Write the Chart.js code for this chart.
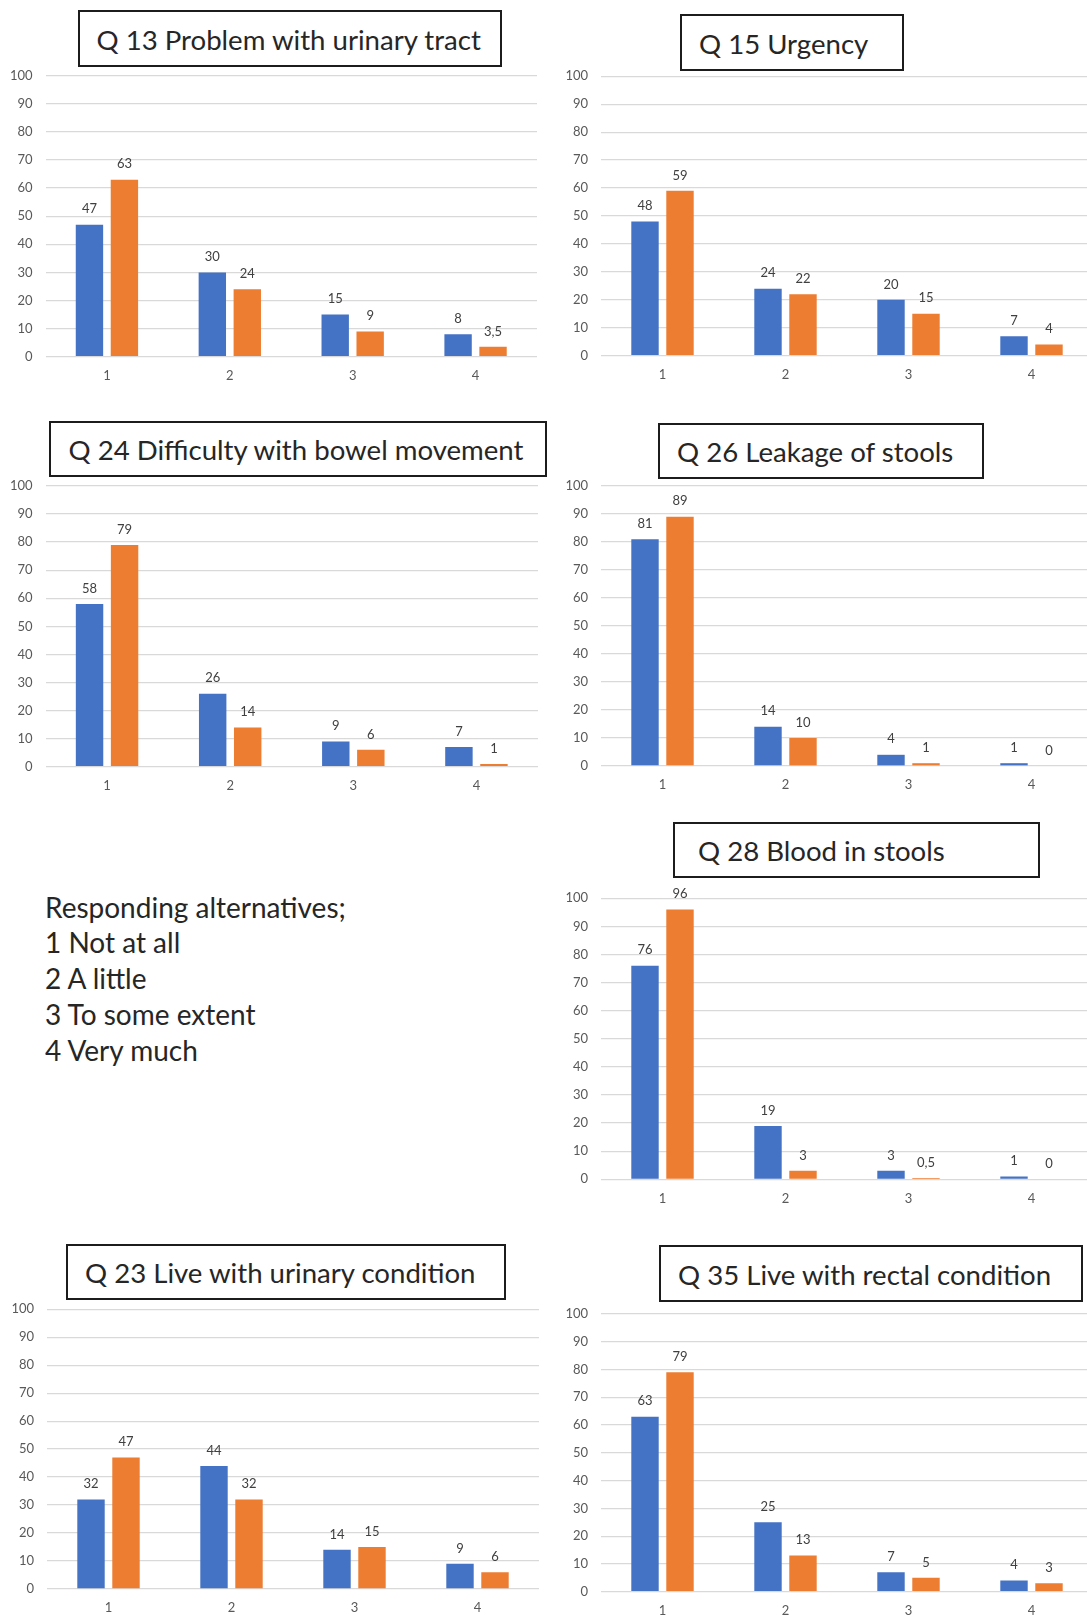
<!DOCTYPE html>
<html>
<head>
<meta charset="utf-8">
<title>Bowel and urinary symptoms, responding alternatives 1-4</title>
<script src="https://cdn.jsdelivr.net/npm/chart.js@4.4.1/dist/chart.umd.min.js"></script>
<style>
  html, body { margin: 0; padding: 0; background: #fff; }
  body { position: relative; width: 1087px; height: 1615px; overflow: hidden; font-family: Lato, "Open Sans", sans-serif; }
  canvas { position: absolute; }
  .title { position: absolute; box-sizing: border-box; border: 2px solid #1c1c1c; background: #fff; }
  .title span { position: absolute; font: 27.6px Lato, sans-serif; line-height: 1.2; color: #262626; white-space: nowrap; }
  .legend { position: absolute; left: 45px; top: 889.5px; font: 28px Lato, sans-serif; line-height: 35.9px; color: #262626; white-space: nowrap; }
</style>
</head>
<body>
<div class="legend" id="legend"></div>
<script>
// Answer categories on the x axis
const categories = ['1', '2', '3', '4'];

// Percent of respondents per answer; blue and orange series for each question
const q13Blue = [47, 30, 15, 8];
const q13Orange = [63, 24, 9, 3.5];
const q15Blue = [48, 24, 20, 7];
const q15Orange = [59, 22, 15, 4];
const q24Blue = [58, 26, 9, 7];
const q24Orange = [79, 14, 6, 1];
const q26Blue = [81, 14, 4, 1];
const q26Orange = [89, 10, 1, 0];
const q28Blue = [76, 19, 3, 1];
const q28Orange = [96, 3, 0.5, 0];
const q23Blue = [32, 44, 14, 9];
const q23Orange = [47, 32, 15, 6];
const q35Blue = [63, 25, 7, 4];
const q35Orange = [79, 13, 5, 3];

// Value axis ticks
const yMin = 0;
const yMax = 100;
const yStep = 10;

const titles = [
  'Q 13 Problem with urinary tract',
  'Q 15 Urgency',
  'Q 24 Difficulty with bowel movement',
  'Q 26 Leakage of stools',
  'Q 28 Blood in stools',
  'Q 23 Live with urinary condition',
  'Q 35 Live with rectal condition'
];

const legendLines = [
  'Responding alternatives;',
  '1 Not at all',
  '2 A little',
  '3 To some extent',
  '4 Very much'
];

const BLUE = '#4472C4';
const ORANGE = '#ED7D31';

// Page placement of each panel: plot area (value 100 at t, value 0 at b) and title box
const panels = [
  { title: titles[0], blue: q13Blue, orange: q13Orange,
    plot: { l: 45.5, r: 537, t: 75.7, b: 356.7 }, box: { x: 77.5, y: 10, w: 424.5, h: 56.5, pad: 19 } },
  { title: titles[1], blue: q15Blue, orange: q15Orange,
    plot: { l: 601, r: 1093, t: 76.3, b: 355.7 }, box: { x: 680, y: 14, w: 224, h: 56.5, pad: 19 } },
  { title: titles[2], blue: q24Blue, orange: q24Orange,
    plot: { l: 45.5, r: 538, t: 486, b: 766.7 }, box: { x: 49, y: 420.5, w: 498, h: 56, pad: 19.5 } },
  { title: titles[3], blue: q26Blue, orange: q26Orange,
    plot: { l: 601, r: 1093, t: 486, b: 766 }, box: { x: 657.5, y: 422.5, w: 326.5, h: 56.5, pad: 19.5 } },
  { title: titles[4], blue: q28Blue, orange: q28Orange,
    plot: { l: 601, r: 1093, t: 898.3, b: 1179.3 }, box: { x: 673, y: 821.5, w: 367, h: 56.5, pad: 25 } },
  { title: titles[5], blue: q23Blue, orange: q23Orange,
    plot: { l: 47, r: 539, t: 1309.3, b: 1589 }, box: { x: 66, y: 1243.5, w: 440, h: 56.5, pad: 19 } },
  { title: titles[6], blue: q35Blue, orange: q35Orange,
    plot: { l: 601, r: 1093, t: 1314, b: 1591.7 }, box: { x: 659, y: 1245, w: 424, h: 56.5, pad: 19 } }
];

const fmt = v => String(v).replace('.', ',');

// Writes each bar's value above it
const valueLabels = {
  id: 'valueLabels',
  afterDatasetsDraw(chart) {
    const ctx = chart.ctx;
    ctx.save();
    ctx.font = '13px Lato, sans-serif';
    ctx.fillStyle = '#404040';
    ctx.textAlign = 'center';
    ctx.textBaseline = 'middle';
    chart.data.datasets.forEach((ds, i) => {
      chart.getDatasetMeta(i).data.forEach((bar, j) => {
        ctx.fillText(fmt(ds.data[j]), bar.x, bar.y - 15.5);
      });
    });
    ctx.restore();
  }
};

const Y_AXIS_W = 45;
const TOP_PAD = 30;
const X_AXIS_H = 30;

function buildPanel(p) {
  // title box
  const box = document.createElement('div');
  box.className = 'title';
  Object.assign(box.style, { left: p.box.x + 'px', top: p.box.y + 'px', width: p.box.w + 'px', height: p.box.h + 'px' });
  const span = document.createElement('span');
  span.textContent = p.title;
  // baseline about 40px below the outer top edge of the box
  span.style.left = (p.box.pad - 2) + 'px';
  span.style.top = (40 - 27.2 - 2) + 'px';
  box.appendChild(span);
  document.body.appendChild(box);

  // chart canvas around the plot area
  const left = Math.round(p.plot.l - Y_AXIS_W);
  const top = Math.round(p.plot.t - TOP_PAD);
  const width = Math.round(p.plot.r - left);
  const height = Math.round(p.plot.b - top + X_AXIS_H);
  const yw = p.plot.l - left;
  const padTop = p.plot.t - top;
  const xh = height - (p.plot.b - top);

  const canvas = document.createElement('canvas');
  canvas.width = width;
  canvas.height = height;
  canvas.style.left = left + 'px';
  canvas.style.top = top + 'px';
  canvas.style.width = width + 'px';
  canvas.style.height = height + 'px';
  document.body.appendChild(canvas);

  new Chart(canvas, {
    type: 'bar',
    data: {
      labels: categories,
      datasets: [
        { data: p.blue, backgroundColor: BLUE, borderWidth: 0 },
        { data: p.orange, backgroundColor: ORANGE, borderWidth: 0 }
      ]
    },
    options: {
      responsive: false,
      animation: false,
      devicePixelRatio: 1,
      layout: { autoPadding: false, padding: { top: padTop, right: 0, bottom: 0, left: 0 } },
      datasets: { bar: { categoryPercentage: 0.569, barPercentage: 0.783 } },
      plugins: { legend: { display: false }, title: { display: false }, tooltip: { enabled: false } },
      scales: {
        x: {
          grid: { display: false },
          border: { display: false },
          ticks: { color: '#595959', font: { family: 'Lato', size: 13 }, padding: 3.5, maxRotation: 0 },
          afterFit(s) { s.height = xh; }
        },
        y: {
          min: yMin, max: yMax,
          grid: { color: '#d9d9d9', lineWidth: 1.3, drawTicks: false },
          border: { display: false },
          ticks: { stepSize: yStep, color: '#595959', font: { family: 'Lato', size: 13 }, padding: 13 },
          afterFit(s) { s.width = yw; }
        }
      }
    },
    plugins: [valueLabels]
  });
}

document.getElementById('legend').innerHTML = legendLines.map(t => '<div>' + t + '</div>').join('');
panels.forEach(buildPanel);
</script>
</body>
</html>
